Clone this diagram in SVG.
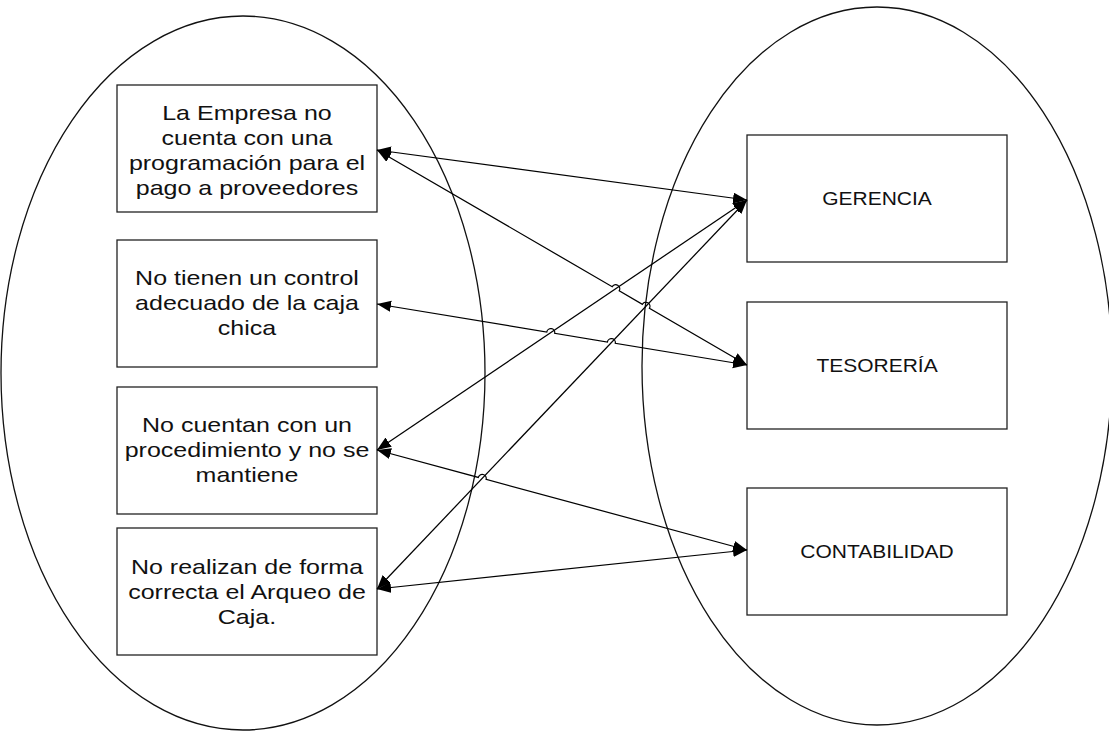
<svg xmlns="http://www.w3.org/2000/svg" width="1109" height="731" viewBox="0 0 1109 731">
<style>
.bg{fill:#ffffff}
.ell{fill:none;stroke:#111;stroke-width:1.3}
.box{fill:#ffffff;stroke:#222;stroke-width:1.3}
.t{font-family:"Liberation Sans",Arial,sans-serif;font-size:20.5px;fill:#111;text-anchor:middle}
.tr{font-family:"Liberation Sans",Arial,sans-serif;font-size:17.5px;fill:#111;text-anchor:middle}
.c{fill:none;stroke:#000;stroke-width:1.25;marker-start:url(#ah);marker-end:url(#ah)}
</style>
<defs>
<marker id="ah" markerUnits="userSpaceOnUse" markerWidth="16" markerHeight="13" refX="14" refY="5.5" orient="auto-start-reverse">
<path d="M0,0 L14,5.5 L0,11 z" fill="#000"/>
</marker>
</defs>
<rect class="bg" x="0" y="0" width="1109" height="731"/>
<g id="groups">
<ellipse class="ell" cx="243" cy="373" rx="242" ry="357"/>
<ellipse class="ell" cx="877" cy="366" rx="235" ry="359"/>
</g>
<g id="n1">
<rect class="box" x="117" y="85" width="260" height="127"/>
<g transform="translate(247,0) scale(1.22,1)">
<text class="t" x="0" y="120">La Empresa no</text>
<text class="t" x="0" y="145">cuenta con una</text>
<text class="t" x="0" y="170">programación para el</text>
<text class="t" x="0" y="195">pago a proveedores</text>
</g>
</g>
<g id="n2">
<rect class="box" x="117" y="240" width="260" height="127"/>
<g transform="translate(247,0) scale(1.22,1)">
<text class="t" x="0" y="285">No tienen un control</text>
<text class="t" x="0" y="310">adecuado de la caja</text>
<text class="t" x="0" y="335">chica</text>
</g>
</g>
<g id="n3">
<rect class="box" x="117" y="387" width="260" height="127"/>
<g transform="translate(247,0) scale(1.22,1)">
<text class="t" x="0" y="432">No cuentan con un</text>
<text class="t" x="0" y="457">procedimiento y no se</text>
<text class="t" x="0" y="482">mantiene</text>
</g>
</g>
<g id="n4">
<rect class="box" x="117" y="528" width="260" height="127"/>
<g transform="translate(247,0) scale(1.22,1)">
<text class="t" x="0" y="574">No realizan de forma</text>
<text class="t" x="0" y="599">correcta el Arqueo de</text>
<text class="t" x="0" y="624">Caja.</text>
</g>
</g>
<g id="gerencia">
<rect class="box" x="747" y="135" width="260" height="127"/>
<g transform="translate(877,0) scale(1.2,1)"><text class="tr" x="0" y="205">GERENCIA</text></g>
</g>
<g id="tesoreria">
<rect class="box" x="747" y="302" width="260" height="127"/>
<g transform="translate(877,0) scale(1.2,1)"><text class="tr" x="0" y="372">TESORERÍA</text></g>
</g>
<g id="contabilidad">
<rect class="box" x="747" y="488" width="260" height="127"/>
<g transform="translate(877,0) scale(1.2,1)"><text class="tr" x="0" y="558">CONTABILIDAD</text></g>
</g>
<g id="connectors">
<path class="c" d="M377,150 L747,200"/>
<path class="c" d="M377,150 L612.2,286.7 A4,4 0 0 1 619.2,290.7 L642.4,304.3 A4,4 0 0 1 649.4,308.3 L747,365"/>
<path class="c" d="M377,304 L546.8,332 A4,4 0 0 1 554.7,333.3 L607.4,342 A4,4 0 0 1 615.3,343.3 L747,365"/>
<path class="c" d="M377,450 L747,200"/>
<path class="c" d="M377,450 L478.3,477.4 A4,4 0 0 1 486.1,479.4 L747,550"/>
<path class="c" d="M377,589 L747,200"/>
<path class="c" d="M377,589 L747,550"/>
</g>
</svg>
